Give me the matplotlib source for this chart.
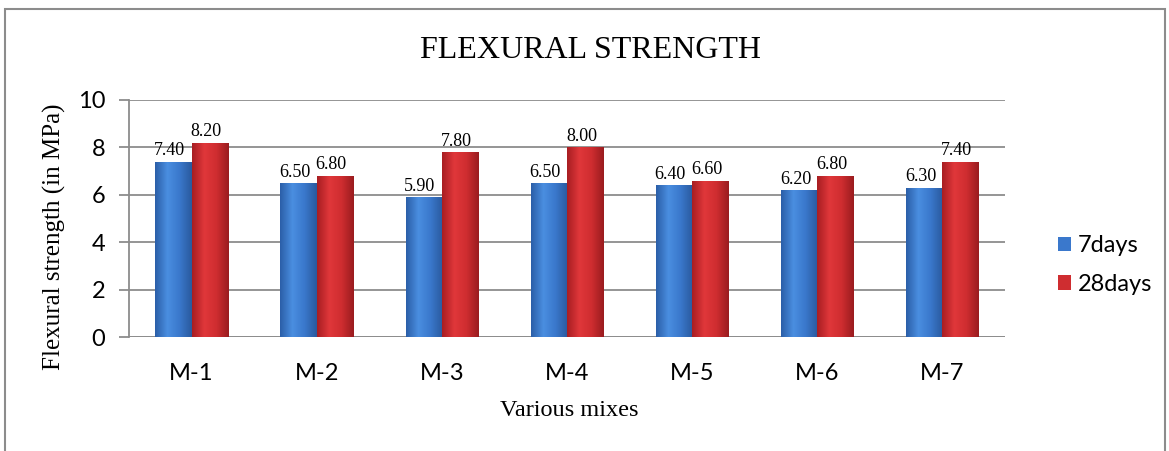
import numpy as np
import matplotlib.pyplot as plt
from matplotlib.patches import Rectangle
from matplotlib.colors import LinearSegmentedColormap

# Data
mixes = ["M-1", "M-2", "M-3", "M-4", "M-5", "M-6", "M-7"]
days7 = [7.40, 6.50, 5.90, 6.50, 6.40, 6.20, 6.30]
days28 = [8.20, 6.80, 7.80, 8.00, 6.60, 6.80, 7.40]
series_names = ["7days", "28days"]

serif = "Liberation Serif"
sans = "Lato"
W, H = 1169, 451

fig = plt.figure(figsize=(W / 100, H / 100), dpi=100)
ax = fig.add_axes([129 / W, 1 - 337 / H, 876 / W, 237 / H])

# outer chart border
fig.patches.append(Rectangle((5 / W, -0.01), 1 - 9 / W, 1 - 9 / H + 0.01, transform=fig.transFigure,
                             fill=False, edgecolor="#8c8c8c", linewidth=1.5))

x = np.arange(len(mixes))
w = 0.29

blue_cmap = LinearSegmentedColormap.from_list("b", ["#2b5fa8", "#4a8ee0", "#3a78cc", "#2a5a9e"])
red_cmap = LinearSegmentedColormap.from_list("r", ["#a81e22", "#e0373a", "#cf2d30", "#9a1c1f"])

grad = np.linspace(0, 1, 64).reshape(1, -1)

def gradient_bars(xs, vals, cmap, label, base):
    bars = ax.bar(xs, vals, width=w, color=base, label=label, zorder=2)
    for b in bars:
        x0, y0 = b.get_x(), b.get_y()
        im = ax.imshow(grad, cmap=cmap, aspect="auto", zorder=2.5,
                       extent=[x0, x0 + b.get_width(), y0, y0 + b.get_height()])
        im.set_clip_path(b)
    return bars

b1 = gradient_bars(x - w / 2, days7, blue_cmap, series_names[0], "#3a78cc")
b2 = gradient_bars(x + w / 2, days28, red_cmap, series_names[1], "#cf2d30")

for xs, vals in [(x - w / 2, days7), (x + w / 2, days28)]:
    for xi, v in zip(xs, vals):
        ax.text(xi - 0.03, v + 0.1, f"{v:.2f}", ha="center", va="bottom",
                fontsize=13, family=serif, zorder=3)

ax.set_xlim(-0.5, len(mixes) - 0.5)
ax.set_ylim(0, 10)
ax.set_yticks(range(0, 11, 2))
ax.set_xticks(x)
ax.set_xticklabels(mixes)
ax.yaxis.grid(True, color="#8c8c8c", linewidth=1.3, zorder=0)
ax.set_axisbelow(True)
for s in ["top", "right", "bottom"]:
    ax.spines[s].set_visible(False)
ax.spines["left"].set_color("#8c8c8c")
ax.spines["left"].set_linewidth(1.3)
ax.tick_params(axis="y", length=7, color="#8c8c8c", width=1.3, labelsize=17, pad=10)
ax.tick_params(axis="x", length=0, labelsize=17, pad=19)
for lbl in ax.get_xticklabels() + ax.get_yticklabels():
    lbl.set_family(sans)
ax.axhline(0, color="#8c8c8c", linewidth=1.3, zorder=1)

fig.text(591 / W, 1 - 50 / H, "FLEXURAL STRENGTH", family=serif, fontsize=23,
         ha="center", va="center")
fig.text(54 / W, 1 - 237 / H, "Flexural strength (in MPa)", family=serif, fontsize=18,
         rotation=90, ha="center", va="center")
fig.text(569 / W, 1 - 410 / H, "Various mixes", family=serif, fontsize=17.5,
         ha="center", va="center")

fig.legend(handles=[b1, b2], labels=series_names, loc="center left",
           bbox_to_anchor=(1046 / W, 1 - 265 / H), frameon=False,
           prop={"family": sans, "size": 17}, handlelength=0.55, handleheight=0.55,
           handletextpad=0.3, labelspacing=0.75, borderpad=0)

fig.savefig("out.png", dpi=100)
